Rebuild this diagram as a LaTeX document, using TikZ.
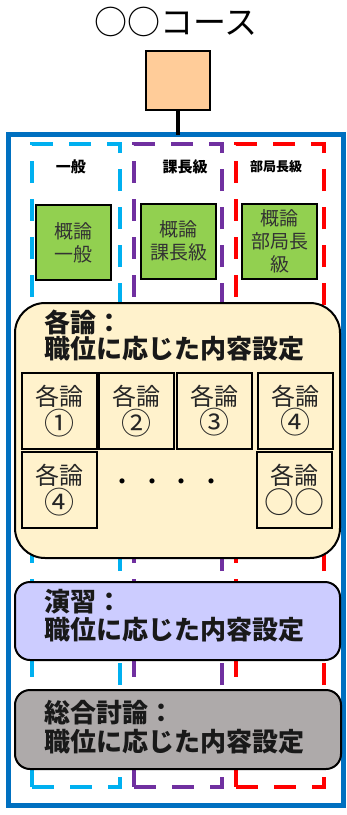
\documentclass[tikz,border=0pt]{standalone}
\usepackage{fontspec}
\setmainfont{Noto Sans CJK JP}
\definecolor{cOrange}{HTML}{FFCC99}
\definecolor{cGreen}{HTML}{92D050}
\definecolor{cTan}{HTML}{FFF2CC}
\definecolor{cLav}{HTML}{CCCCFF}
\definecolor{cGray}{HTML}{AEAAAA}
\definecolor{cCyan}{HTML}{00B0F0}
\definecolor{cPurple}{HTML}{7030A0}
\definecolor{cRed}{HTML}{FF0000}
\definecolor{cBlue}{HTML}{0070C0}
\newcommand{\bigc}[1]{\raisebox{-0.06em}{\scalebox{1.25}{#1}}}
\tikzset{
  col/.style={draw=#1, line width=4pt, dash pattern=on 22pt off 16pt, minimum width=88pt, minimum height=643pt, inner sep=0pt, outer sep=0pt},
  collab/.style={font=\bfseries\fontsize{#1}{#1}\selectfont, inner sep=0pt},
  greenbox/.style={draw=black, fill=cGreen, line width=2pt, minimum width=75pt, minimum height=75pt, inner sep=0pt, align=center, text=black!80, font=\fontsize{19}{23}\selectfont},
  subbox/.style={draw=black, fill=cTan, line width=2pt, minimum width=75pt, minimum height=76pt, inner sep=0pt, align=center, text=black!85, font=\fontsize{24}{27}\selectfont},
  bigbox/.style={draw=black, fill=#1, line width=2pt, inner sep=0pt, outer sep=0pt},
  boxtitle/.style={anchor=west, align=left, inner sep=0pt, font=\bfseries\fontsize{26}{26}\selectfont, text=black!90},
}
\begin{document}
\begin{tikzpicture}[x=1pt,y=-1pt]
\useasboundingbox (0,0) rectangle (347,815);
\node[inner sep=0pt, font=\fontsize{33}{33}\selectfont] (ttl) at (176,22) {○○コース};
\node[draw=black, fill=cOrange, line width=2.5pt, minimum width=64pt, minimum height=59pt, inner sep=0pt, outer sep=0pt] (sq) at (178,80.5) {};
\node[draw=cBlue, line width=5pt, minimum width=335.5pt, minimum height=671pt, inner sep=0pt, outer sep=0pt] (frame) at (175.75,470) {};
\draw[line width=4pt] (sq.south) -- (sq.south |- frame.north);
% dashed columns
\node[col=cCyan] (c1) at (76,465.5) {};
\node[col=cPurple] (c2) at (178,465.5) {};
\node[col=cRed] (c3) at (280,465.5) {};
\node[collab=15] (l1) at (71,167) {一般};
\node[collab=15] (l2) at (185,167) {課長級};
\node[collab=13] (l3) at (276,167) {部局長級};
% green boxes
\node[greenbox] (g1) at (73.5,242.5) {概論\\一般};
\node[greenbox] (g2) at (178.5,241) {概論\\課長級};
\node[greenbox] (g3) at (279.5,241.5) {概論\\部局長\\級};
% tan box
\node[bigbox=cTan, rounded corners=30pt, minimum width=325pt, minimum height=255pt] (tan) at (177.5,430.5) {};
\node[boxtitle] (tant) at (44,335.5) {各論：\\職位に応じた内容設定};
\node[subbox] (s1) at (59.5,411) {各論\\\bigc{①}};
\node[subbox] (s2) at (136.5,411) {各論\\\bigc{②}};
\node[subbox] (s3) at (214.5,410.5) {各論\\\bigc{③}};
\node[subbox] (s4) at (295.5,410.5) {各論\\\bigc{④}};
\node[subbox] (s5) at (59.5,490) {各論\\\bigc{④}};
\node[subbox] (s6) at (294.5,490) {各論\\\bigc{○○}};
\node[inner sep=0pt, font=\fontsize{24}{24}\selectfont] (dots) at (167,485) {・\hspace{5.5pt}・\hspace{5.5pt}・\hspace{5.5pt}・};
% lavender box
\node[bigbox=cLav, rounded corners=15pt, minimum width=325pt, minimum height=78pt] (lav) at (177.5,621) {};
\node[boxtitle, font=\bfseries\fontsize{26}{28}\selectfont] (lavt) at (44,616) {演習：\\職位に応じた内容設定};
% gray box
\node[bigbox=cGray, rounded corners=15pt, minimum width=326pt, minimum height=79pt] (gry) at (178,729.5) {};
\node[boxtitle, font=\bfseries\fontsize{26}{29}\selectfont] (gryt) at (44,727.5) {総合討論：\\職位に応じた内容設定};
\end{tikzpicture}
\end{document}
